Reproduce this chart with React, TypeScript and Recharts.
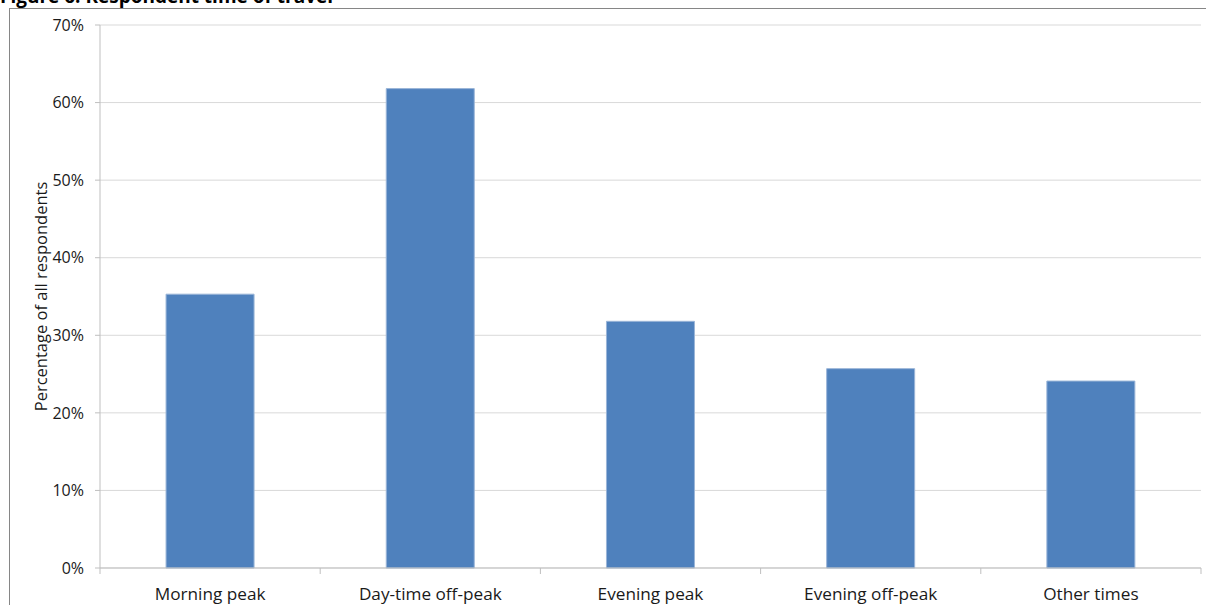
import { BarChart, Bar, XAxis, YAxis, CartesianGrid } from 'recharts';

const categories = ['Morning peak', 'Day-time off-peak', 'Evening peak', 'Evening off-peak', 'Other times'];
const percentages = [35.3, 61.8, 31.8, 25.7, 24.1];
const yTicks = [0, 10, 20, 30, 40, 50, 60, 70];

const data = categories.map((name, i) => ({ name, value: percentages[i] }));

const FONT = '"Open Sans", sans-serif';

// category label in the middle, tick marks on the band edges
function CategoryTick(props: any) {
  const { x, y, payload, index, visibleTicksCount } = props;
  const half = payload.offset || 0;
  const last = index === visibleTicksCount - 1;
  return (
    <g>
      <line x1={x - half} x2={x - half} y1={y} y2={y + 6} stroke="#bfbfbf" />
      {last && <line x1={x + half} x2={x + half} y1={y} y2={y + 6} stroke="#bfbfbf" />}
      <text x={x} y={y + 32} textAnchor="middle" fill="#1a1a1a" fontSize={17.2} fontFamily={FONT}>
        {payload.value}
      </text>
    </g>
  );
}

export default function App() {
  return (
    <div style={{ position: 'absolute', left: 0, top: 0, width: 1206, height: 605, overflow: 'hidden', background: '#fff' }}>
      <div
        style={{
          position: 'absolute',
          left: 0,
          top: -13,
          fontFamily: FONT,
          fontWeight: 700,
          fontSize: 19,
          lineHeight: '19px',
          whiteSpace: 'nowrap',
          color: '#000',
        }}
      >
        Figure 6: Respondent time of travel
      </div>
      <div
        style={{
          position: 'absolute',
          left: 9,
          top: 8,
          width: 1400,
          height: 800,
          border: '1px solid #868686',
        }}
      />
      <div style={{ position: 'absolute', left: 0, top: 0 }}>
        <BarChart
          width={1206}
          height={605}
          data={data}
          margin={{ top: 25, right: 5, left: 0, bottom: 0 }}
          barCategoryGap="30%"
        >
          <CartesianGrid vertical={false} stroke="#d9d9d9" />
          <XAxis
            dataKey="name"
            height={37}
            axisLine={{ stroke: '#bfbfbf' }}
            tickLine={false}
            tickSize={0}
            tickMargin={0}
            interval={0}
            tick={<CategoryTick />}
          />
          <YAxis
            width={100}
            domain={[0, 70]}
            ticks={yTicks}
            interval={0}
            tickFormatter={(v) => `${v}%`}
            axisLine={{ stroke: '#bfbfbf' }}
            tickLine={{ stroke: '#bfbfbf' }}
            tickSize={5}
            tickMargin={11}
            tick={{ fill: '#1a1a1a', fontSize: 16, fontFamily: FONT }}
            label={{
              value: 'Percentage of all respondents',
              angle: -90,
              position: 'center',
              dx: -9,
              fill: '#1a1a1a',
              fontSize: 16.5,
              fontFamily: FONT,
            }}
          />
          <Bar dataKey="value" fill="#4f81bd" stroke="#9ab5d8" strokeWidth={1} isAnimationActive={false} />
        </BarChart>
      </div>
    </div>
  );
}
